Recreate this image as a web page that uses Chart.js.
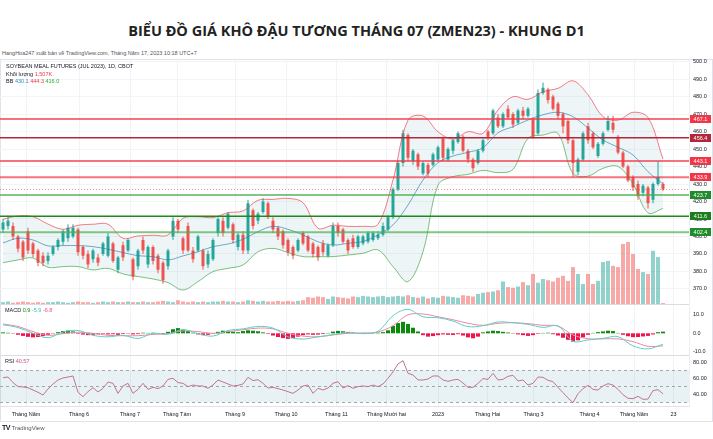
<!DOCTYPE html>
<html>
<head>
<meta charset="utf-8">
<script src="https://cdn.jsdelivr.net/npm/chart.js@4.4.0/dist/chart.umd.min.js"></script>
<style>
body { margin: 0; background: #fff; }
#page { position: relative; width: 713px; height: 439px; overflow: hidden; font-family: 'Liberation Sans', Arial, sans-serif; }
#title { position: absolute; top: 21px; left: 0; width: 713px; text-align: center; font: 700 14.5px 'Open Sans', sans-serif; color: #222; }
.small { position: absolute; font-size: 5.5px; line-height: 6px; color: #131722; white-space: nowrap; }
#frame { position: absolute; left: 0; top: 59px; width: 711px; height: 361px; border: 1px solid #e0e3eb; }
#wrap { position: absolute; left: 0; top: 59px; width: 713px; height: 363px; }
</style>
</head>
<body>
<div id="page">
  <div id="title">BIỂU ĐỒ GIÁ KHÔ ĐẬU TƯƠNG THÁNG 07 (ZMEN23) - KHUNG D1</div>
  <div class="small" style="left:2px;top:50px;color:#555;">HangHoa247 xuất bản về TradingView.com, Tháng Năm 17, 2023 10:18 UTC+7</div>
  <div id="frame"></div>
  <div id="wrap"><canvas id="chart"></canvas></div>
  <div class="small" style="left:6px;top:63px;">SOYBEAN MEAL FUTURES (JUL 2023), 1D, CBOT</div>
  <div class="small" style="left:6px;top:71px;">Khối lượng <span style="color:#f23645">1.507K</span></div>
  <div class="small" style="left:6px;top:78px;">BB <span style="color:#2a8fbd">430.1</span> <span style="color:#f23645">444.3</span> <span style="color:#22ab2b">416.0</span></div>
  <div class="small" style="left:5px;top:307px;">MACD <span style="color:#0b8a0b">0.9</span> <span style="color:#3cbfb5">-5.9</span> <span style="color:#f0506e">-6.8</span></div>
  <div class="small" style="left:5px;top:358px;">RSI <span style="color:#c0577f">40.57</span></div>
  <div class="small" style="left:2px;top:425px;font-size:6px;"><b style="font-size:7px;letter-spacing:-0.5px">TV</b> <span style="color:#555">TradingView</span></div>
</div>
<script>
// x axis month ticks (in candle index units)
const tickPos = [4.6, 15.2, 25.4, 34.8, 46.4, 56.6, 66.7, 76.7, 87, 96.9, 106.1, 117.3, 126.2, 134.1];
const tickLabels = ['Tháng Năm', 'Tháng 6', 'Tháng 7', 'Tháng Tám', 'Tháng 9', 'Tháng 10', 'Tháng 11',
    'Tháng Mười hai', '2023', 'Tháng Hai', 'Tháng 3', 'Tháng 4', 'Tháng Năm', '23'];
const priceTicks = [370, 380, 390, 400, 410, 420, 430, 440, 450, 460, 470, 480, 490, 500];
const macdTicks = [-10, 0, 10];
const rsiTicks = [40, 60, 80];

const openP = [404,406,406,400,397,403,396,392,389,386, 390,394,397,399,400,404,394,390,387,388,
    390,389,396,381,395,392,387,383,398,384, 394,389,385,383,400,409,399,406,392,392,
    392,384,387,402,409,405,407,394,401,392, 415,409,414,419,409,405,403,398,394,392,
    402,400,396,394,396,389,395,406,404,398, 399,394,396,397,398,399,401,404,411,427,
    442,458,443,447,436,441,441,444,456,444, 449,454,457,449,444,442,449,460,459,468,
    463,473,470,465,472,469,467,459,482,484, 480,476,470,466,455,437,444,463,459,446,
    453,461,465,457,448,440,434,430,425,428, 421,430,430];
const highP = [410,412,408,401,398,405,397,393,391,391, 395,399,404,407,407,405,395,392,393,390,
    397,402,397,389,397,399,388,393,400,395, 395,390,386,393,411,410,400,408,394,401,
    393,392,399,411,411,414,408,402,403,421, 416,414,422,420,411,406,404,399,395,399,
    403,401,397,395,398,396,408,408,405,399, 401,401,401,403,403,403,408,412,428,443,
    461,459,450,448,443,442,448,452,457,451, 456,460,458,450,445,450,456,461,473,470,
    471,475,471,473,474,474,468,484,488,485, 481,477,471,467,456,445,460,465,460,454,
    460,469,469,458,449,441,435,432,430,429, 431,443,431];
const lowP = [402,404,398,391,386,390,388,383,383,384, 389,392,395,397,399,389,387,382,385,383,
    389,388,385,379,386,391,375,381,390,382, 384,379,373,381,398,402,390,391,385,391,
    381,382,386,400,400,404,396,392,390,390, 404,407,413,410,402,398,393,389,387,391,
    395,391,388,386,389,388,394,400,396,390, 393,393,395,396,397,398,400,403,410,426,
    440,443,441,438,435,434,440,443,443,443, 447,453,448,442,437,441,448,455,458,462,
    462,467,462,464,467,468,456,458,481,476, 472,467,459,453,434,435,443,453,450,445,
    452,460,459,447,439,431,426,421,423,416, 419,429,426];
const closeP = [408,409,400,393,388,392,390,385,385,389, 394,398,403,405,405,391,389,384,392,385,
    396,400,386,388,388,398,377,392,392,394, 386,381,375,392,409,404,392,392,387,400,
    383,390,398,410,402,413,398,401,392,419, 406,413,420,411,404,400,395,391,389,398,
    396,392,390,388,391,395,406,402,397,392, 394,400,400,402,402,401,406,411,427,442,
    459,445,449,440,442,436,447,451,445,450, 455,459,449,444,439,449,455,457,472,463,
    470,468,464,472,469,473,457,482,485,478, 473,469,463,455,442,444,459,455,451,453,
    459,466,461,448,440,432,428,423,429,419, 430,434,427];
// volume in thousands of contracts
const volume = [3,4,2,3,4,3,2,3,2,3, 3,4,3,2,3,4,3,3,2,3, 4,3,4,3,3,4,3,3,4,3,
    3,4,5,4,3,6,4,3,4,3, 4,3,4,4,5,4,4,3,4,6, 5,4,5,4,4,5,4,5,4,5,
    6,11,10,12,11,8,12,11,10,9, 12,11,13,12,11,12,13,11,12,13, 12,14,11,10,12,9,11,10,13,12,
    11,10,14,13,12,16,18,19,20,22, 36,27,26,28,35,30,48,34,40,38, 36,42,45,37,59,48,32,48,32,37,
    67,69,61,59,96,99,80,56,51,48, 85,75,1.5];

// Bollinger Bands, MACD and signal sampled every 3rd candle
const SAMPLE_STEP = 3;
const bbUpper = [409.8,411.7,411.3,407.1,404.1,406.4,407,407,399,400.3, 400.7,400.9,410.4,411.3,410.8,413.6,414.6,420.7,421.2,421.8,
    419.3,404.7,406.4,405.8,405.8,407,432.3,466.6,468.9,459.9, 455.7,459.9,459,472.3,479.9,478.4,482.8,484.7,489,481,
    468.5,466.5,471,468,444.3];
const bbBasis = [396.3,399,398,394.6,394.8,394.8,394.2,392.7,390.8,389, 388.5,386.6,388.9,391.3,394.2,395.7,398.4,402.8,405.8,404.1,
    400.9,397,395.1,396.1,397.2,401,406.6,418,432.3,442.2, 446,448.1,450.8,459.3,462.8,466.6,469.6,471,468.5,462,
    455.2,451,446.6,437,430.1];
const bbLower = [385,386.6,387.7,382.4,382.8,382.8,380.9,381.8,378.6,377.1, 375.7,373.6,369.4,374.2,379.9,381.8,383.7,391.3,393.2,390.8,
    388.5,388.5,388.5,389.4,390.4,392.3,382.8,374.2,391.3,429.4, 434.2,435.5,437.8,436.5,438.4,456.1,458,458.9,436,434.5,
    439,440,430,413.5,416];
const macdLine = [4.6,3.1,0,-2.4,0.7,1.5,-1.1,-1.9,-1.1,-2.8, 0,-0.5,2.0,-0.2,-1.5,1.5,2.4,3.7,2.8,-1.9,
    -3.1,-1.9,-0.7,0.6,-0.2,1.1,9.5,12.9,8.9,8.4, 6.6,3.6,4.1,6.1,5.7,4.8,3.2,3.9,-4.3,-3.6,
    -2.7,-1.8,-6.8,-8.4,-5.9];
const signalLine = [5.0,3.7,0.9,-1.1,-0.2,0.6,0,-1.1,-1.3,-1.3, -0.6,-0.2,1.3,0.9,0,0.9,1.9,2.8,2.4,0,
    -1.5,-1.9,-0.9,0,0.2,0.7,4.1,10,10.4,8.9, 7.3,5.4,4.3,5.4,5.7,5.2,4.3,3.9,-0.9,-2.9,
    -3.0,-3.0,-4.5,-7.0,-6.8];
const macdHist = [0.5,0.3,-0.2,-0.8,-1.4,-1.9,-2.2,-2.0,-1.5,-0.8, -0.2,0.6,1.2,1.5,1.0,-0.3,-0.7,-1.0,-0.8,-0.5,
    -0.3,-0.6,-0.5,-0.8,-0.4,-0.2,-0.6,-0.4,0.3,0.2, 0.3,-0.2,-0.5,0.8,2.2,2.8,2.0,1.2,0.3,-0.6,
    -1.0,-0.8,-0.2,0.8,1.4,1.1,0.9,0.6,1.2,1.6, 1.4,1.1,0.5,-0.3,-1.2,-2.0,-2.6,-3.0,-2.6,-1.8,
    -1.0,-0.6,-0.8,-0.7,-0.4,0.2,0.9,1.3,1.1,0.6, 0.2,-0.2,-0.2,0.1,0.2,0.3,0.6,1.6,4.0,5.5,
    6.2,5.0,3.0,1.0,-1.0,-1.8,-1.5,-1.0,-0.6,-0.8, -0.9,-0.5,-1.2,-2.2,-2.7,-1.8,0.5,1.0,1.4,1.2,
    0.8,0.4,-0.2,-0.6,-1.0,-1.4,-1.0,-0.3,0.2,0.3, -0.5,-1.2,-2.4,-3.5,-4.5,-3.8,-2.2,-0.8,0.2,0.6,
    1.0,1.4,1.2,0.2,-0.8,-1.6,-2.1,-2.0,-1.7,-1.4, -0.6,0.6,0.9];
const rsi = [60.8,61.6,54.6,49.6,49.2,48.3,45.4,42.5,39.1,46.6, 52.9,57.9,60.4,61.6,62.9,42.5,37.1,43.3,48.3,42.9,
    47.5,55.4,53.7,41.2,50.4,53.7,41.2,46.2,53.7,46.2, 48.7,47.1,50.4,58.7,60,54.6,53.7,49.6,51.6,50.4,
    50.4,47.5,51.6,57.9,55.4,52.9,50.4,51.2,52.9,61.2, 57.1,58.3,53.7,47.9,48.7,47.1,45.4,43.3,41.2,45.4,
    50.4,51.6,41.2,47.5,45.4,47.9,53.7,55.8,47.9,50.8, 47.5,49.6,50.4,49.6,51.6,49.6,52.9,60,67.9,77.9,
    82.1,66.2,64.2,57.9,57.9,59.1,62.9,62.9,57.9,56.2, 57.9,58.7,54.1,48.7,48.7,53.7,59.6,58.7,66.2,57.9,
    58.7,62.5,63.7,56.6,57.9,51.6,53.7,61.6,61.2,57.5, 55.8,48.7,42.1,35.4,29.6,40.8,47.1,51.2,46.2,45.4,
    50.4,53.3,51.6,46.2,39.6,35,34.6,37.5,33.7,34.1, 44.6,45.8,40.6];

// support / resistance levels drawn on the chart
const levels = [467.1, 456.4, 443.1, 433.9, 423.7, 411.6, 402.4];
const levelColors = ['#f23645', '#b2283a', '#f23645', '#f23645', '#4caf50', '#1b8a1b', '#4caf50'];
const levelTagColors = ['#f23645', '#b2283a', '#f23645', '#f23645', '#1e8c2a', '#1b7d1b', '#1e8c2a'];
const levelWidths = [2, 1.5, 2, 2, 2, 1.5, 2];
const levelAlpha = [0.7, 1, 0.7, 0.7, 0.7, 1, 0.7];

const UP = '#26a69a', DOWN = '#ef5350';
const candleColors = closeP.map((c, i) => c >= openP[i] ? UP : DOWN);
const volColors = closeP.map((c, i) => c >= openP[i] ? 'rgba(38,166,154,0.5)' : 'rgba(239,83,80,0.5)');
const histColors = macdHist.map(v => v >= 0 ? '#0b8a0b' : '#f2134a');

function perCandle(arr, fn) { return arr.map((v, i) => ({x: i, y: fn ? fn(v, i) : v})); }
function sampled(arr) { return arr.map((v, k) => ({x: k * SAMPLE_STEP, y: v})); }

// the axes should not reserve room for overflowing labels
function fitRight(s) { s.width = 24; s.paddingTop = 0; s.paddingBottom = 0; }

// volume sits in the lower part of the price pane, so give its axis the price pane's box
const volumeOverlay = {
    id: 'volumeOverlay',
    afterLayout(chart) {
        let p = chart.scales.y, v = chart.scales.yVol;
        v.top = p.top; v.bottom = p.bottom; v.height = p.height;
        v.configure();
    }
};

const paneDecor = {
    id: 'paneDecor',
    beforeDatasetsDraw(chart) {
        let ctx = chart.ctx, area = chart.chartArea, r = chart.scales.yRsi;
        let y70 = r.getPixelForValue(70), y50 = r.getPixelForValue(50), y30 = r.getPixelForValue(30);
        ctx.save();
        ctx.fillStyle = 'rgba(120,170,185,0.17)';
        ctx.fillRect(area.left, y70, area.right - area.left, y30 - y70);
        ctx.strokeStyle = '#a3a6ad';
        ctx.lineWidth = 1;
        ctx.setLineDash([3, 3]);
        [y70, y50, y30].forEach(y => {
            ctx.beginPath(); ctx.moveTo(area.left, Math.round(y) + 0.5); ctx.lineTo(area.right, Math.round(y) + 0.5); ctx.stroke();
        });
        ctx.setLineDash([]);
        ctx.strokeStyle = '#d9dce3';
        [chart.scales.yMacd.top, r.top].forEach(y => {
            ctx.beginPath(); ctx.moveTo(0, Math.round(y) + 0.5); ctx.lineTo(area.right, Math.round(y) + 0.5); ctx.stroke();
        });
        ctx.restore();
    },
    afterDatasetsDraw(chart) {
        let ctx = chart.ctx, area = chart.chartArea, p = chart.scales.y;
        ctx.save();
        // last price dotted line
        let yc = Math.round(p.getPixelForValue(closeP[closeP.length - 1])) + 0.5;
        ctx.strokeStyle = 'rgba(242,54,69,0.55)';
        ctx.lineWidth = 1;
        ctx.setLineDash([1, 2]);
        ctx.beginPath(); ctx.moveTo(area.left, yc); ctx.lineTo(area.right, yc); ctx.stroke();
        ctx.setLineDash([]);
        levels.forEach((lv, i) => {
            let y = p.getPixelForValue(lv);
            ctx.globalAlpha = levelAlpha[i];
            ctx.strokeStyle = levelColors[i];
            ctx.lineWidth = levelWidths[i];
            ctx.beginPath(); ctx.moveTo(area.left, y); ctx.lineTo(area.right, y); ctx.stroke();
            ctx.globalAlpha = 1;
            ctx.fillStyle = levelTagColors[i];
            ctx.fillRect(area.right + 1, Math.round(y) - 4, 21, 8);
            ctx.fillStyle = '#fff';
            ctx.font = '5.5px "Liberation Sans", Arial, sans-serif';
            ctx.textAlign = 'center';
            ctx.textBaseline = 'middle';
            ctx.fillText(lv.toFixed(1), area.right + 11.5, Math.round(y) + 0.5);
        });
        ctx.restore();
    }
};

Chart.defaults.font.family = "'Liberation Sans', Arial, sans-serif";
Chart.defaults.font.size = 5.5;
Chart.defaults.color = '#131722';

const lineBase = {type: 'line', pointRadius: 0, borderWidth: 1, tension: 0.35, fill: false};
const barBase = {type: 'bar', grouped: false, borderWidth: 0, inflateAmount: 0};

new Chart(document.getElementById('chart'), {
    type: 'bar',
    data: {
        datasets: [
            Object.assign({}, lineBase, {label: 'BB upper', data: sampled(bbUpper), yAxisID: 'y', borderColor: 'rgba(242,54,69,0.65)',
                fill: '+2', backgroundColor: 'rgba(90,160,170,0.1)', order: 2}),
            Object.assign({}, lineBase, {label: 'BB basis', data: sampled(bbBasis), yAxisID: 'y', borderColor: 'rgba(41,128,170,0.65)', order: 2}),
            Object.assign({}, lineBase, {label: 'BB lower', data: sampled(bbLower), yAxisID: 'y', borderColor: 'rgba(60,160,60,0.65)', order: 2}),
            Object.assign({}, barBase, {label: 'Khối lượng', data: perCandle(volume), yAxisID: 'yVol',
                backgroundColor: volColors, barThickness: 4, order: 10}),
            Object.assign({}, barBase, {label: 'wick', data: perCandle(lowP, (v, i) => [v, highP[i]]), yAxisID: 'y',
                backgroundColor: candleColors, barThickness: 1, order: 4}),
            Object.assign({}, barBase, {label: 'body', data: perCandle(openP, (v, i) => [v, closeP[i]]), yAxisID: 'y',
                backgroundColor: candleColors, barThickness: 3, order: 3}),
            Object.assign({}, barBase, {label: 'MACD hist', data: perCandle(macdHist), yAxisID: 'yMacd',
                backgroundColor: histColors, barThickness: 4, order: 3}),
            Object.assign({}, lineBase, {label: 'MACD', data: sampled(macdLine), yAxisID: 'yMacd', borderColor: '#5fcfc6', order: 1}),
            Object.assign({}, lineBase, {label: 'Signal', data: sampled(signalLine), yAxisID: 'yMacd', borderColor: '#e88aa3', order: 1}),
            Object.assign({}, lineBase, {label: 'RSI', data: perCandle(rsi), yAxisID: 'yRsi', borderColor: '#c27392', tension: 0, order: 1})
        ]
    },
    options: {
        responsive: true,
        maintainAspectRatio: false,
        animation: false,
        layout: {padding: {top: 1, left: 0, right: 0, bottom: 0}},
        plugins: {
            legend: {display: false},
            tooltip: {enabled: false},
            filler: {drawTime: 'beforeDatasetsDraw'}
        },
        scales: {
            x: {
                type: 'linear', min: -0.6, max: 137.2, position: 'bottom', offset: false,
                afterBuildTicks: s => { s.ticks = tickPos.map(v => ({value: v})); },
                afterFit: s => { s.height = 16; s.paddingLeft = 0; s.paddingRight = 0; },
                ticks: {callback: (v, i) => tickLabels[i], autoSkip: false, maxRotation: 0, padding: 5},
                grid: {color: '#f0f3fa', drawTicks: false, offset: false},
                border: {color: '#e0e3eb'}
            },
            y: {
                position: 'right', stack: 'panes', stackWeight: 244, min: 361.4, max: 500.9,
                afterBuildTicks: s => { s.ticks = priceTicks.map(v => ({value: v})); },
                afterFit: fitRight,
                ticks: {callback: v => v.toFixed(1), padding: 4, autoSkip: false},
                grid: {color: '#f2f4f8', drawTicks: false},
                border: {color: '#eceef2'}
            },
            yVol: {display: false, position: 'right', min: 0, max: 390},
            yMacd: {
                position: 'right', stack: 'panes', stackWeight: 51, min: -11.7, max: 15.8,
                afterBuildTicks: s => { s.ticks = macdTicks.map(v => ({value: v})); },
                afterFit: fitRight,
                ticks: {callback: v => v.toFixed(1), padding: 4, autoSkip: false},
                grid: {display: false, drawTicks: false},
                border: {color: '#eceef2'}
            },
            yRsi: {
                position: 'right', stack: 'panes', stackWeight: 51, min: 25.4, max: 89.1,
                afterBuildTicks: s => { s.ticks = rsiTicks.map(v => ({value: v})); },
                afterFit: fitRight,
                ticks: {callback: v => v.toFixed(2), padding: 4, autoSkip: false},
                grid: {display: false, drawTicks: false},
                border: {color: '#eceef2'}
            }
        }
    },
    plugins: [volumeOverlay, paneDecor]
});
</script>
</body>
</html>
